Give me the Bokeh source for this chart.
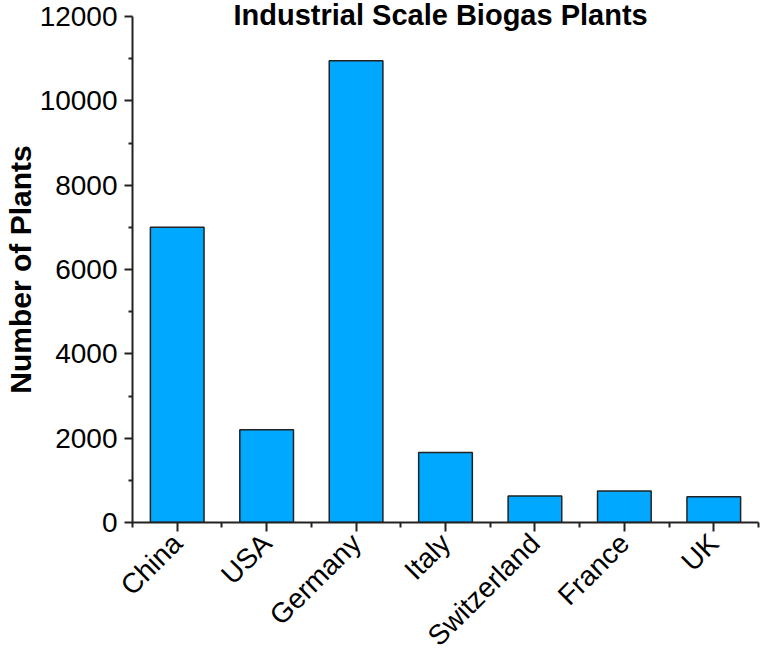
import math
from bokeh.plotting import figure
from bokeh.models import ColumnDataSource, Range1d, FixedTicker, Title, LinearAxis
from bokeh.embed import file_html
from bokeh.resources import INLINE

categories = ["China", "USA", "Germany", "Italy", "Switzerland", "France", "UK"]
plants = [7000, 2200, 10950, 1660, 630, 745, 610]
y_ticks = [0, 2000, 4000, 6000, 8000, 10000, 12000]
y_minor = [1000, 3000, 5000, 7000, 9000, 11000]

positions = list(range(1, len(categories) + 1))
source = ColumnDataSource(data=dict(x=positions, cat=categories, n=plants))

font = "Liberation Sans"

p = figure(
    frame_width=626, frame_height=506,
    x_range=Range1d(0.5, len(categories) + 0.5),
    y_range=Range1d(0, 12000),
    output_backend="svg", toolbar_location=None,
    min_border_left=132, min_border_right=4, min_border_top=16, min_border_bottom=40,
    x_axis_location=None, y_axis_location=None,
)
p.title = Title(text="Industrial Scale Biogas Plants", align="left",
                text_font=font, text_font_size="29px", text_font_style="bold",
                text_color="black", standoff=-28, offset=101)
p.grid.visible = False
p.outline_line_color = None
p.background_fill_color = "white"
p.border_fill_color = "white"

p.vbar(x="x", top="n", width=0.6, source=source,
       fill_color="#00A9FF", line_color="#222222", line_width=1.5)

xaxis = LinearAxis(
    ticker=FixedTicker(ticks=positions,
                       minor_ticks=[i + 0.5 for i in range(0, len(categories) + 1)]),
    major_label_overrides={i: c for i, c in zip(positions, categories)},
    major_label_orientation=math.pi / 4,
    axis_line_width=2, axis_line_color="#222222",
    major_tick_line_width=2, major_tick_line_color="#222222",
    minor_tick_line_width=2, minor_tick_line_color="#222222",
    major_tick_in=0, major_tick_out=9, minor_tick_in=0, minor_tick_out=5,
    major_label_text_font=font, major_label_text_font_size="28px",
    major_label_text_color="black", major_label_standoff=7,
)
p.add_layout(xaxis, "below")

yaxis = LinearAxis(
    ticker=FixedTicker(ticks=y_ticks, minor_ticks=y_minor),
    axis_label="Number of Plants",
    axis_label_text_font=font, axis_label_text_font_size="30px",
    axis_label_text_font_style="bold", axis_label_text_color="black",
    axis_label_standoff=0,
    axis_line_width=2, axis_line_color="#222222",
    major_tick_line_width=2, major_tick_line_color="#222222",
    minor_tick_line_width=2, minor_tick_line_color="#222222",
    major_tick_in=0, major_tick_out=8, minor_tick_in=0, minor_tick_out=4,
    major_label_text_font=font, major_label_text_font_size="28px",
    major_label_text_color="black", major_label_standoff=7,
)
p.add_layout(yaxis, "left")

open("out.html", "w").write(file_html(p, INLINE))
